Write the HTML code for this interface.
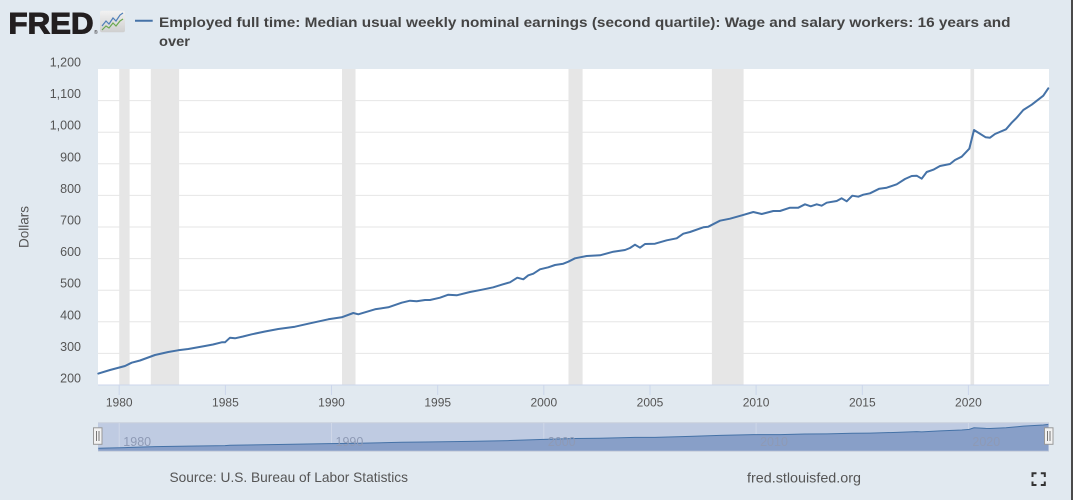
<!DOCTYPE html>
<html><head><meta charset="utf-8"><style>
html,body{margin:0;padding:0;background:#e1e9f0;}
svg{display:block;font-family:"Liberation Sans",sans-serif;}
</style></head><body>
<svg width="1073" height="500" viewBox="0 0 1073 500" xmlns="http://www.w3.org/2000/svg">
<rect x="0" y="0" width="1073" height="500" fill="#e1e9f0"/>
<rect x="1071" y="0" width="2" height="500" fill="#4a4a4a"/>
<!-- logo -->
<text x="8.5" y="33.3" font-size="30" font-weight="bold" fill="#231f20" stroke="#231f20" stroke-width="1.1" textLength="85" lengthAdjust="spacingAndGlyphs">FRED</text>
<text x="94" y="34" font-size="5" fill="#231f20">®</text>
<defs><linearGradient id="ig" x1="0" y1="0" x2="0" y2="1"><stop offset="0" stop-color="#f2f2f2"/><stop offset="1" stop-color="#cfcfcf"/></linearGradient></defs>
<rect x="100" y="10.7" width="25" height="21.6" rx="2" fill="url(#ig)"/>
<polyline points="102,26 106,21 109,24 113,18 116,21 120,15 123,13" fill="none" stroke="#4f7fb8" stroke-width="1.2"/>
<polyline points="102,30 106,26 109,28 113,23 116,26 120,21 123,19" fill="none" stroke="#6aa84f" stroke-width="1.2"/>
<!-- legend/title -->
<line x1="135" y1="20.7" x2="152.7" y2="20.7" stroke="#4572a7" stroke-width="2"/>
<text x="159" y="27" font-size="14" font-weight="bold" fill="#444" textLength="851.5" lengthAdjust="spacingAndGlyphs">Employed full time: Median usual weekly nominal earnings (second quartile): Wage and salary workers: 16 years and</text>
<text x="159" y="46" font-size="14" font-weight="bold" fill="#444" textLength="31" lengthAdjust="spacingAndGlyphs">over</text>
<!-- plot area -->
<rect x="98" y="69" width="951" height="316" fill="#ffffff"/>
<g fill="#e6e6e6">
<rect x="119.2" y="69" width="10.4" height="316"/>
<rect x="150.8" y="69" width="28.3" height="316"/>
<rect x="342" y="69" width="13.5" height="316"/>
<rect x="568.5" y="69" width="14.1" height="316"/>
<rect x="711.9" y="69" width="31.7" height="316"/>
<rect x="970.5" y="69" width="3.6" height="316"/>
</g>
<g stroke="#e6e6e6" stroke-width="1">
<line x1="98" y1="100.6" x2="1049" y2="100.6"/>
<line x1="98" y1="132.2" x2="1049" y2="132.2"/>
<line x1="98" y1="163.8" x2="1049" y2="163.8"/>
<line x1="98" y1="195.4" x2="1049" y2="195.4"/>
<line x1="98" y1="227" x2="1049" y2="227"/>
<line x1="98" y1="258.6" x2="1049" y2="258.6"/>
<line x1="98" y1="290.2" x2="1049" y2="290.2"/>
<line x1="98" y1="321.8" x2="1049" y2="321.8"/>
<line x1="98" y1="353.4" x2="1049" y2="353.4"/>
</g>
<line x1="98" y1="385" x2="1049" y2="385" stroke="#ccd6eb" stroke-width="1"/>
<g stroke="#ccd6eb" stroke-width="1">
<line x1="119.2" y1="385" x2="119.2" y2="395"/>
<line x1="225.4" y1="385" x2="225.4" y2="395"/>
<line x1="331.5" y1="385" x2="331.5" y2="395"/>
<line x1="437.7" y1="385" x2="437.7" y2="395"/>
<line x1="543.8" y1="385" x2="543.8" y2="395"/>
<line x1="650" y1="385" x2="650" y2="395"/>
<line x1="756.1" y1="385" x2="756.1" y2="395"/>
<line x1="862.3" y1="385" x2="862.3" y2="395"/>
<line x1="968.4" y1="385" x2="968.4" y2="395"/>
</g>
<!-- y labels -->
<g font-size="12.5" fill="#555" text-anchor="end">
<text x="81" y="66.5">1,200</text>
<text x="81" y="98.1">1,100</text>
<text x="81" y="129.7">1,000</text>
<text x="81" y="161.3">900</text>
<text x="81" y="192.9">800</text>
<text x="81" y="224.5">700</text>
<text x="81" y="256.1">600</text>
<text x="81" y="287.7">500</text>
<text x="81" y="319.3">400</text>
<text x="81" y="350.9">300</text>
<text x="81" y="382.5">200</text>
</g>
<text transform="translate(28.3,227) rotate(-90)" font-size="13.5" fill="#555" text-anchor="middle">Dollars</text>
<!-- x labels -->
<g font-size="12" fill="#555" text-anchor="middle">
<text x="119.2" y="406.5">1980</text>
<text x="225.4" y="406.5">1985</text>
<text x="331.5" y="406.5">1990</text>
<text x="437.7" y="406.5">1995</text>
<text x="543.8" y="406.5">2000</text>
<text x="650" y="406.5">2005</text>
<text x="756.1" y="406.5">2010</text>
<text x="862.3" y="406.5">2015</text>
<text x="968.4" y="406.5">2020</text>
</g>
<!-- series -->
<polyline fill="none" stroke="#4572a7" stroke-width="2" stroke-linejoin="round" stroke-linecap="round" points="98.3,373.6 110,370 125,366 131.7,362.7 140,360.5 155,355 168.3,352 178,350.3 188.3,349 205,346 213,344.5 221.7,342.3 225,342.3 230,337.7 235,338.3 243,336.5 251.7,334.3 265,331.5 278.3,329 295,326.7 310,323.3 328.3,319.3 341.7,317.3 353.3,313 358.3,314.3 375,309.3 388.3,307.3 401.7,302.7 410,300.7 416.7,301.3 425,300 430,300 440,297.7 448.3,294.7 456.7,295.3 470,292 482,289.7 493.3,287.3 501.7,284.7 510,282.3 517.3,277.7 523.3,279.3 528.3,275.3 533.3,273.7 540,269.3 548.3,267.3 555,265 563.3,263.7 568.3,261.7 575,258.3 586.7,256 600,255.3 613.3,251.7 625,250 630,248 635,244.7 640,247.7 645,244 655,243.7 666.7,240.3 676.7,238.3 683.3,233.7 690,232 703.3,227.3 708.3,226.7 720,220.7 730,218.7 742,215.3 753.3,212 761.7,214 773.3,211 780,211 790,207.7 798.3,207.7 805,204.3 810.7,206.3 816.7,204.3 821.7,205.7 826.7,202.7 836.7,201 841.7,198.3 846.7,201.3 852.3,195.7 858.3,196.7 863.3,194.7 870,193.3 879.3,188.7 886.7,187.7 896.7,184.3 905,179 911.7,176 916.7,175.7 921.7,178.7 926.7,172 933.3,169.7 940,166 950,164 955,160 961.7,156.7 969.3,148.7 974,130 985.7,137.3 990,137.7 995,134 1006,129.3 1011.7,122.7 1016.7,117.7 1023.3,110 1031.7,104.7 1043.3,95.7 1048.3,88.3"/>
<!-- navigator -->
<rect x="98" y="422.7" width="951" height="28.5" fill="#bfcbe2"/>
<line x1="98" y1="422.7" x2="1049" y2="422.7" stroke="#c9d0dc" stroke-width="1"/>
<g stroke="#d3dbea" stroke-width="1" opacity="0.8">
<line x1="119.2" y1="423" x2="119.2" y2="451"/>
<line x1="331.5" y1="423" x2="331.5" y2="451"/>
<line x1="543.8" y1="423" x2="543.8" y2="451"/>
<line x1="756.1" y1="423" x2="756.1" y2="451"/>
<line x1="968.4" y1="423" x2="968.4" y2="451"/>
</g>
<g transform="matrix(1 0 0 0.0837 0 416.93)">
<polygon fill="#889fc8" points="98.3,407 98.3,373.6 125,366 155,355 188.3,349 225,342.3 230,337.7 278.3,329 328.3,319.3 358.3,314.3 401.7,302.7 425,300 470,292 510,282.3 540,269.3 575,258.3 600,255.3 635,244.7 655,243.7 690,232 720,220.7 753.3,212 780,211 805,204.3 826.7,202.7 852.3,195.7 870,193.3 896.7,184.3 916.7,175.7 921.7,178.7 940,166 961.7,156.7 969.3,148.7 974,130 985.7,137.3 990,137.7 1006,129.3 1023.3,110 1043.3,95.7 1048.3,88.3 1048.3,407"/>
<polyline fill="none" stroke="#4572a7" stroke-width="1" vector-effect="non-scaling-stroke" points="98.3,373.6 125,366 155,355 188.3,349 225,342.3 230,337.7 278.3,329 328.3,319.3 358.3,314.3 401.7,302.7 425,300 470,292 510,282.3 540,269.3 575,258.3 600,255.3 635,244.7 655,243.7 690,232 720,220.7 753.3,212 780,211 805,204.3 826.7,202.7 852.3,195.7 870,193.3 896.7,184.3 916.7,175.7 921.7,178.7 940,166 961.7,156.7 969.3,148.7 974,130 985.7,137.3 990,137.7 1006,129.3 1023.3,110 1043.3,95.7 1048.3,88.3"/>
</g>
<g font-size="12.5" fill="#8e9ab5">
<text x="123.3" y="446">1980</text>
<text x="335.5" y="446">1990</text>
<text x="547.8" y="446">2000</text>
<text x="760.1" y="446">2010</text>
<text x="972.4" y="446">2020</text>
</g>
<line x1="98" y1="451.2" x2="1049" y2="451.2" stroke="#c9d0dc" stroke-width="1"/>
<!-- handles -->
<rect x="93.5" y="427.8" width="8.5" height="16.5" fill="#f2f2f2" stroke="#999" stroke-width="1"/>
<line x1="96.5" y1="431" x2="96.5" y2="441" stroke="#777" stroke-width="1"/>
<line x1="99" y1="431" x2="99" y2="441" stroke="#777" stroke-width="1"/>
<rect x="1044.5" y="427.8" width="8.5" height="16.5" fill="#f2f2f2" stroke="#999" stroke-width="1"/>
<line x1="1047.5" y1="431" x2="1047.5" y2="441" stroke="#777" stroke-width="1"/>
<line x1="1050" y1="431" x2="1050" y2="441" stroke="#777" stroke-width="1"/>
<!-- footer -->
<text x="169.5" y="482" font-size="14" fill="#555" textLength="238.5" lengthAdjust="spacingAndGlyphs">Source: U.S. Bureau of Labor Statistics</text>
<text x="747" y="482.5" font-size="14" fill="#555" textLength="114" lengthAdjust="spacingAndGlyphs">fred.stlouisfed.org</text>
<g fill="none" stroke="#333" stroke-width="2">
<polyline points="1032.5,477 1032.5,473.3 1036.5,473.3"/>
<polyline points="1040.8,473.3 1044.8,473.3 1044.8,477"/>
<polyline points="1032.5,481.5 1032.5,485 1036.5,485"/>
<polyline points="1040.8,485 1044.8,485 1044.8,481.5"/>
</g>
</svg>
</body></html>
